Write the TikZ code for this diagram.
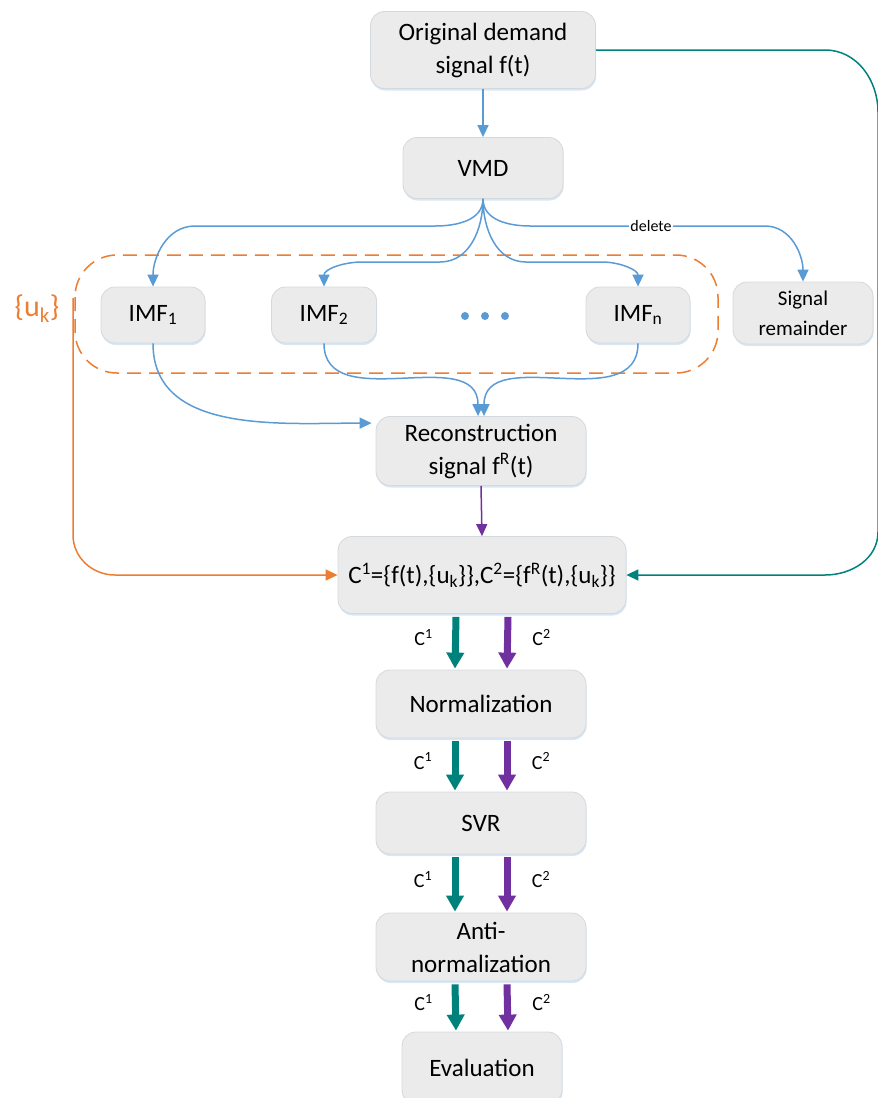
\documentclass[tikz,border=0pt]{standalone}
\usepackage{fontspec}
\setmainfont{Carlito}
\usetikzlibrary{arrows.meta,shadows,calc}
\definecolor{flowblue}{HTML}{5B9BD5}
\definecolor{floworange}{HTML}{ED7D31}
\definecolor{flowteal}{HTML}{00827C}
\definecolor{flowpurple}{HTML}{7030A0}
\definecolor{boxfill}{HTML}{EBEBEB}
\definecolor{boxline}{HTML}{D4D9DE}
\definecolor{glow}{HTML}{BDD7EE}

\begin{document}
\begin{tikzpicture}[x=1pt,y=-1pt,
  box/.style={draw=boxline, fill=boxfill, line width=0.8pt, rounded corners=14pt,
    align=center, inner sep=0pt, font=\fontsize{25}{33}\selectfont,
    drop shadow={shadow xshift=0.6pt, shadow yshift=-2pt, fill=glow, opacity=0.6}},
  thinarrow/.style={line width=1.5pt, -{Triangle[width=11pt,length=12pt]}},
  bigarrow/.style={line width=7pt, -{Triangle[width=17pt,length=16pt]}},
  clabel/.style={font=\fontsize{20}{24}\selectfont, inner sep=0pt},
  group/.style={draw=floworange, line width=1.5pt, dash pattern=on 14pt off 8pt, rounded corners=42pt},
]
\useasboundingbox (0,0) rectangle (878,1098);

% processing boxes
\node[box, minimum width=225pt, minimum height=77pt] (orig) at (483,50) {Original demand\\signal f(t)};
\node[box, minimum width=160pt, minimum height=61pt] (vmd) at (483,168) {VMD};
\node[box, minimum width=104pt, minimum height=56pt] (imf1) at (153,315) {IMF\textsubscript{1}};
\node[box, minimum width=105pt, minimum height=56pt] (imf2) at (324,315) {IMF\textsubscript{2}};
\node[box, minimum width=104pt, minimum height=56pt] (imfn) at (638,315) {IMF\textsubscript{n}};
\node[box, minimum width=140pt, minimum height=62pt, font=\fontsize{21}{30}\selectfont] (rem) at (803,313) {Signal\\remainder};
\node[box, minimum width=210pt, minimum height=69pt] (recon) at (481,451) {Reconstruction\\signal f\textsuperscript{R}(t)};
\node[box, minimum width=288pt, minimum height=77pt, font=\fontsize{25}{30}\selectfont] (cset) at (482,575)
  {C\textsuperscript{1}=\{f(t),\{u\textsubscript{k}\}\},C\textsuperscript{2}=\{f\textsuperscript{R}(t),\{u\textsubscript{k}\}\}};
\node[box, minimum width=210pt, minimum height=68pt] (norm) at (481,704) {Normalization};
\node[box, minimum width=210pt, minimum height=62pt] (svr) at (481,823) {SVR};
\node[box, minimum width=210pt, minimum height=68pt] (anti) at (481,947) {Anti-\\normalization};
\node[box, minimum width=160pt, minimum height=72pt] (eval) at (482,1068) {Evaluation};

% the dots between IMF_2 and IMF_n
\foreach \x [count=\i] in {465,485,505}
  \fill[flowblue] (\x,316) circle (4pt) node (dot\i) {};

% dashed group of the modes
\draw[group] (75,255) rectangle (718,373);
\node[text=floworange, font=\fontsize{30}{32}\selectfont, inner sep=0pt] (uk) at (37,309) {\{u\textsubscript{k}\}};
\coordinate (ukstart) at (73,298);

% decomposition
\draw[thinarrow, flowblue] (orig.south) -- (vmd.north);
\draw[thinarrow, flowblue] (vmd.south) to[out=-90,in=0] (435,226) -- (195,226) to[out=180,in=90] (imf1.north);
\draw[thinarrow, flowblue] (vmd.south) to[out=-90,in=0] (440,262) -- (362,262) to[out=180,in=90] (imf2.north);
\draw[thinarrow, flowblue] (vmd.south) to[out=-90,in=180] (526,262) -- (602,262) to[out=0,in=90] (imfn.north);
\draw[thinarrow, flowblue] (vmd.south) to[out=-90,in=180] (530,226) -- (765,226) to[out=0,in=90] (rem.north);
\node[fill=white, inner sep=1pt, font=\fontsize{16}{18}\selectfont] (del) at (651,226) {delete};

% reconstruction
\draw[thinarrow, flowblue] (imf1.south) to[out=-90,in=180] ($(recon.north west)+(-4,7)$);
\draw[thinarrow, flowblue] (imf2.south) to[out=-90,in=90, looseness=1.1] ($(recon.north)+(-3,0)$);
\draw[thinarrow, flowblue] (imfn.south) to[out=-90,in=90, looseness=1.1] ($(recon.north)+(3,0)$);
\draw[thinarrow, flowpurple] (recon.south) -- (cset.north);

% inputs to the data sets
\draw[thinarrow, floworange] (ukstart) -- (73,535) to[out=-90,in=180] (115,575) -- (cset.west);
\draw[thinarrow, flowteal] (orig.east) -- (825,50) to[out=0,in=90] (878,112) -- (878,532)
  to[out=-90,in=0] (825,575) -- (cset.east);

% two data streams through the model
\foreach \a/\b in {cset/norm, norm/svr, svr/anti, anti/eval}{
  \draw[bigarrow, flowteal] ($(\a.south)+(-26,3)$) -- ($(\b.north)+(-26,-1)$);
  \draw[bigarrow, flowpurple] ($(\a.south)+(26,3)$) -- ($(\b.north)+(26,-1)$);
  \node[clabel] at ($(\a.south)!0.5!(\b.north)+(-58,-4)$) {C\textsuperscript{1}};
  \node[clabel] at ($(\a.south)!0.5!(\b.north)+(60,-4)$) {C\textsuperscript{2}};
}
\end{tikzpicture}
\end{document}
